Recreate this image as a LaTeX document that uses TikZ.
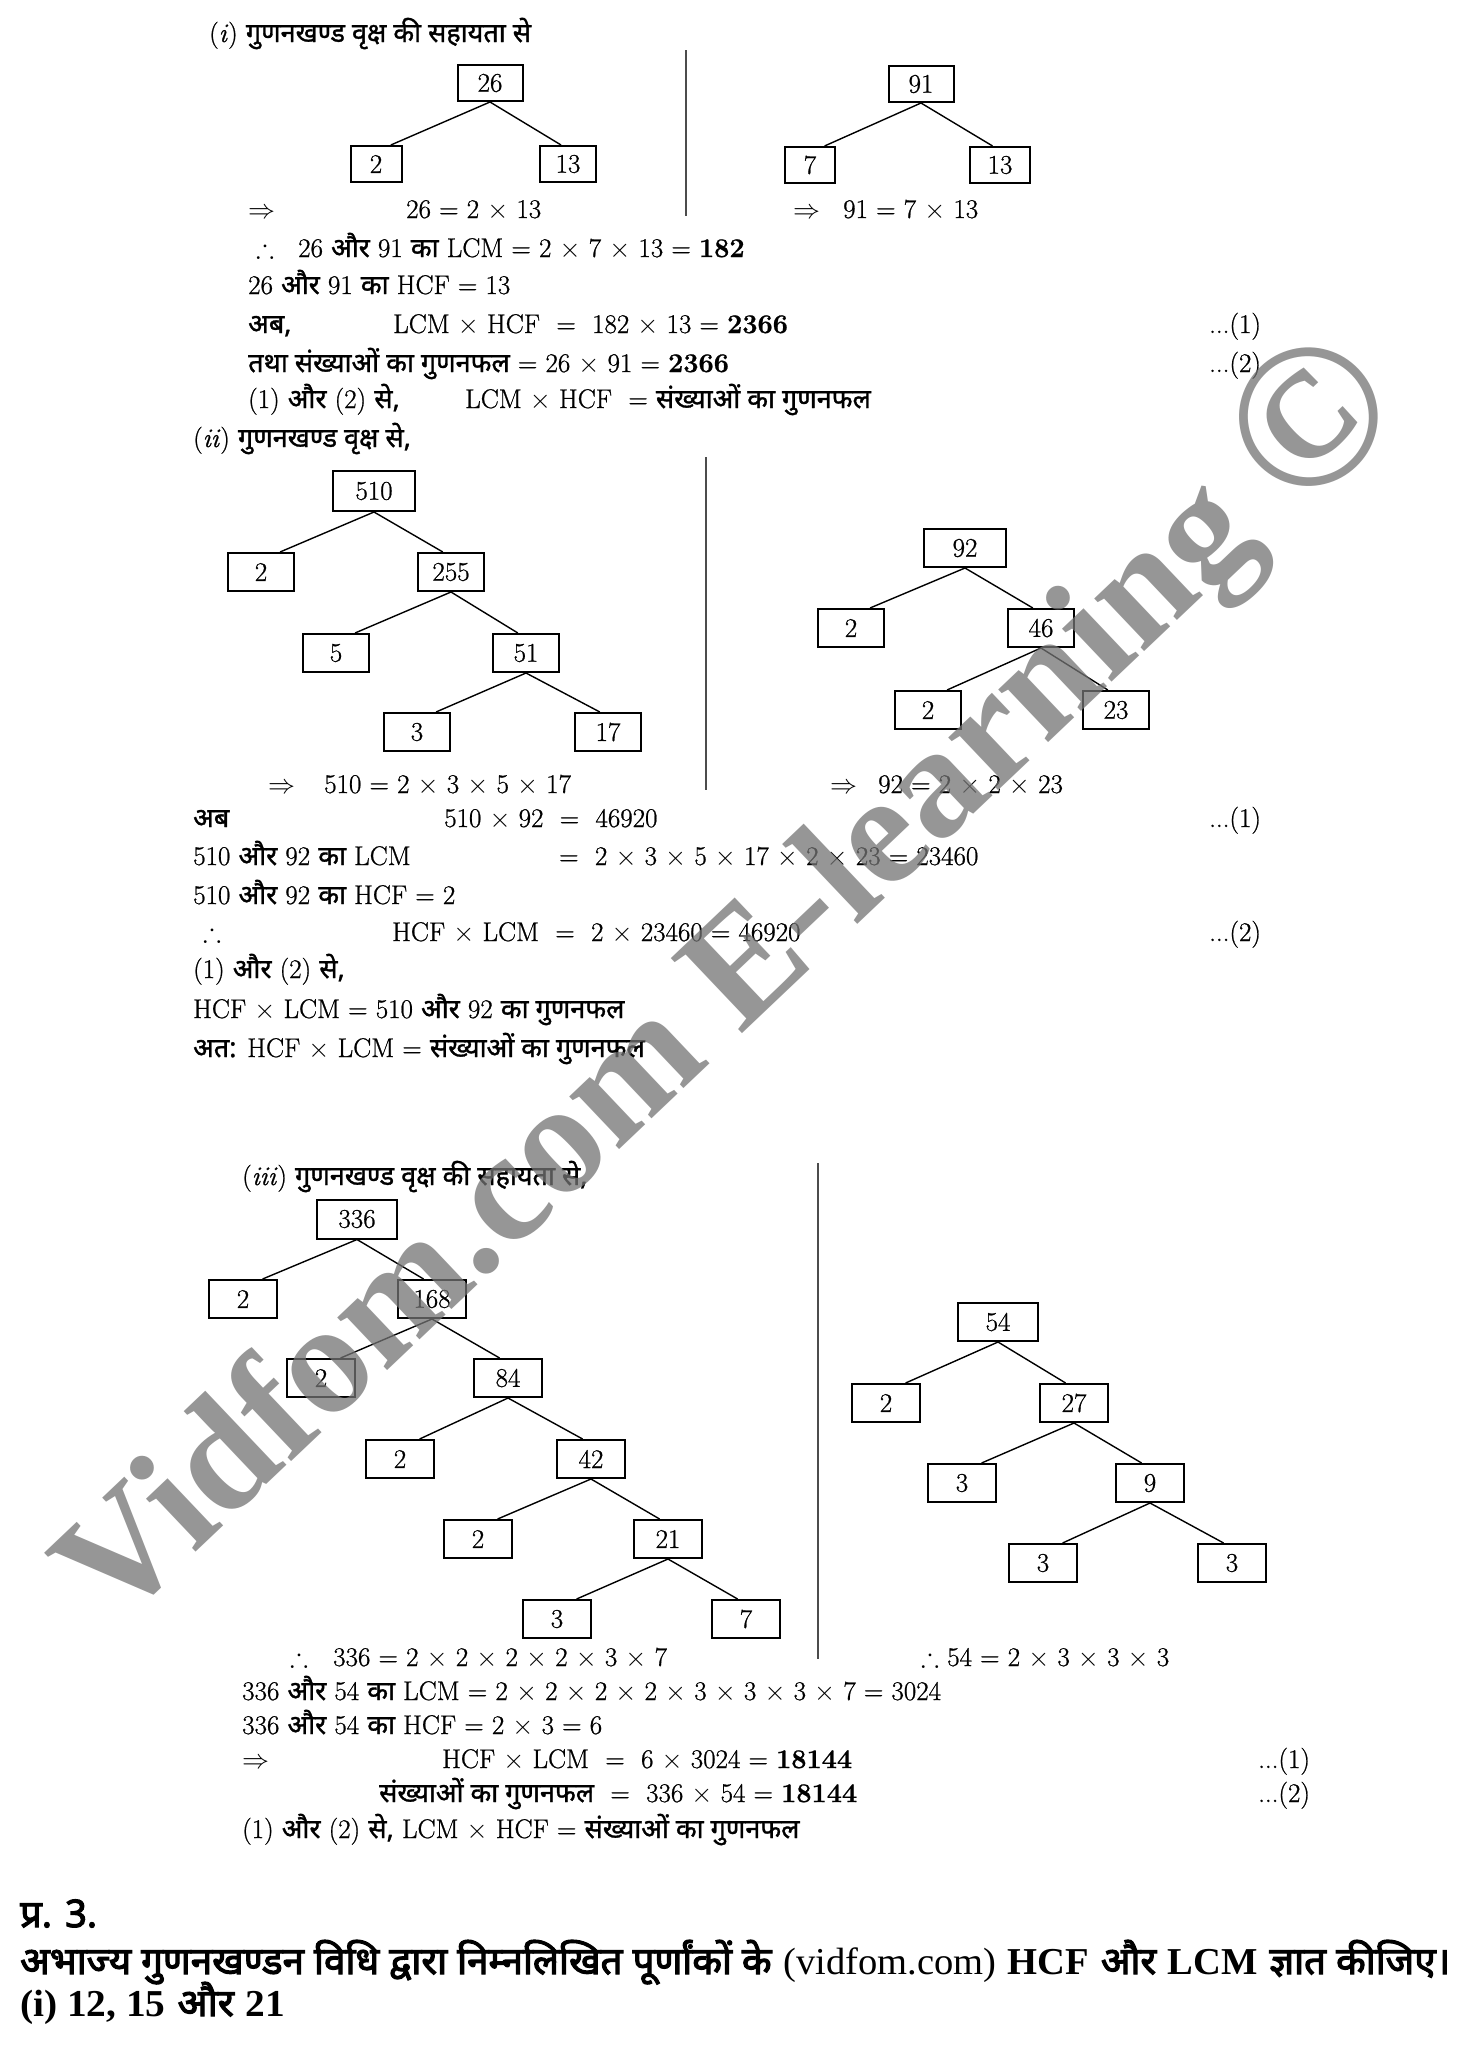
\RequirePackage{fix-cm}
\documentclass[tikz,border=0pt]{standalone}
\usepackage{fontspec}
\usepackage{amssymb}
\usepackage{graphicx}
\usetikzlibrary{calc}
\setmainfont{Latin Modern Roman}[FakeBold=0.8]
\newfontfamily\dv[Script=Devanagari,FakeBold=1.2]{Noto Sans}
\newfontfamily\dvb[Script=Devanagari,FakeBold=3]{Noto Sans}
\newfontfamily\ls{Liberation Serif}
\newcommand\fs{\fontsize{27}{32}\selectfont}
\newcommand\tf{\fontsize{27}{32}\selectfont}
\newcommand\D[1]{{\dv #1}}
\newcommand\B[1]{{\dvb #1}}
\newcommand\X{$\times$}
\tikzset{
  nb/.style={draw, line width=2pt, minimum width=66pt, minimum height=38pt, inner sep=0pt, font=\fs},
  edge/.style={line width=1.4pt},
  sep/.style={line width=2pt, draw=black!70},
  tx/.style={anchor=base west, inner sep=0pt, font=\fs},
  tt/.style={anchor=base west, inner sep=0pt, font=\tf},
}
\newcommand\kids[3]{%
  \draw[edge] (#1.south) -- ($(#2.north west)!0.78!(#2.north east)$);
  \draw[edge] (#1.south) -- ($(#3.north west)!0.38!(#3.north east)$);}
\begin{document}
\begin{tikzpicture}[x=1pt,y=-1pt]
\path[use as bounding box, fill=white] (0,0) rectangle (1483,2048);

% ---------- (i) ----------
\node[tt] (t1) at (209,42) {(\textit{i}) \D{गुणनखण्ड वृक्ष की सहायता से}};
\node[nb, minimum width=65pt, minimum height=36pt] (a1) at (490,83) {26};
\node[nb, minimum width=51pt, minimum height=36pt] (a2) at (376,164) {2};
\node[nb, minimum width=56pt, minimum height=36pt] (a3) at (568,164) {13};
\kids{a1}{a2}{a3}
\node[nb, minimum width=65pt, minimum height=36pt] (b1) at (921,84) {91};
\node[nb, minimum width=50pt, minimum height=36pt] (b2) at (810,165) {7};
\node[nb, minimum width=60pt, minimum height=36pt] (b3) at (1000,165) {13};
\kids{b1}{b2}{b3}
\coordinate (s1a) at (686,50); \coordinate (s1b) at (686,216);
\draw[sep] (s1a) -- (s1b);
\node[tx] (l1a) at (248,218) {$\Rightarrow$};
\node[tx] (l1b) at (406,218) {26 = 2 \X{} 13};
\node[tx] (l1c) at (793,218) {$\Rightarrow$};
\node[tx] (l1d) at (843,218) {91 = 7 \X{} 13};
\node[tx] (l2a) at (256,257) {$\therefore$};
\node[tx] (l2b) at (298,257) {26 \D{और} 91 \D{का} LCM = 2 \X{} 7 \X{} 13 = \textbf{182}};
\node[tx] (l3) at (248,294) {26 \D{और} 91 \D{का} HCF = 13};
\node[tx] (l4a) at (248,333) {\D{अब,}};
\node[tx] (l4b) at (393,333) {LCM \X{} HCF \ = \ 182 \X{} 13 = \textbf{2366}};
\node[tx] (l4c) at (1209,333) {...(1)};
\node[tx] (l5a) at (248,372) {\D{तथा संख्याओं का गुणनफल} = 26 \X{} 91 = \textbf{2366}};
\node[tx] (l5b) at (1209,372) {...(2)};
\node[tx] (l6a) at (248,408) {(1) \D{और} (2) \D{से,}};
\node[tx] (l6b) at (465,408) {LCM \X{} HCF \ = \D{संख्याओं का गुणनफल}};

% ---------- (ii) ----------
\node[tt] (t2) at (193,447) {(\textit{ii}) \D{गुणनखण्ड वृक्ष से,}};
\node[nb, minimum width=82pt, minimum height=40pt] (c1) at (374,491) {510};
\node[nb] (c2) at (261,572) {2};
\node[nb] (c3) at (451,572) {255};
\node[nb] (c4) at (336,653) {5};
\node[nb] (c5) at (526,653) {51};
\node[nb] (c6) at (417,732) {3};
\node[nb] (c7) at (608,732) {17};
\kids{c1}{c2}{c3}
\kids{c3}{c4}{c5}
\kids{c5}{c6}{c7}
\node[nb, minimum width=82pt] (d1) at (965,548) {92};
\node[nb] (d2) at (851,628) {2};
\node[nb] (d3) at (1041,628) {46};
\node[nb] (d4) at (928,710) {2};
\node[nb] (d5) at (1116,710) {23};
\kids{d1}{d2}{d3}
\kids{d3}{d4}{d5}
\coordinate (s2a) at (706,457); \coordinate (s2b) at (706,790);
\draw[sep] (s2a) -- (s2b);
\node[tx] (m1a) at (268,793) {$\Rightarrow$};
\node[tx] (m1b) at (324,793) {510 = 2 \X{} 3 \X{} 5 \X{} 17};
\node[tx] (m1c) at (830,793) {$\Rightarrow$};
\node[tx] (m1d) at (878,793) {92 = 2 \X{} 2 \X{} 23};
\node[tx] (m2a) at (193,827) {\D{अब}};
\node[tx] (m2b) at (444,827) {510 \X{} 92 \ = \ 46920};
\node[tx] (m2c) at (1209,827) {...(1)};
\node[tx] (m3a) at (193,865) {510 \D{और} 92 \D{का} LCM};
\node[tx] (m3b) at (559,865) {= \ 2 \X{} 3 \X{} 5 \X{} 17 \X{} 2 \X{} 23 = 23460};
\node[tx] (m4) at (193,904) {510 \D{और} 92 \D{का} HCF = 2};
\node[tx] (m5a) at (203,941) {$\therefore$};
\node[tx] (m5b) at (392,941) {HCF \X{} LCM \ = \ 2 \X{} 23460 = 46920};
\node[tx] (m5c) at (1209,941) {...(2)};
\node[tx] (m6) at (193,978) {(1) \D{और} (2) \D{से,}};
\node[tx] (m7) at (193,1018) {HCF \X{} LCM = 510 \D{और} 92 \D{का गुणनफल}};
\node[tx] (m8) at (193,1057) {\D{अत:} HCF \X{} LCM = \D{संख्याओं का गुणनफल}};

% ---------- (iii) ----------
\node[tt] (t3) at (242,1185) {(\textit{iii}) \D{गुणनखण्ड वृक्ष की सहायता से,}};
\node[nb, minimum width=80pt, minimum height=39pt] (e1) at (357,1219) {336};
\node[nb, minimum width=68pt] (e2) at (243,1299) {2};
\node[nb, minimum width=68pt] (e3) at (432,1299) {168};
\node[nb, minimum width=68pt] (e4) at (321,1378) {2};
\node[nb, minimum width=68pt] (e5) at (508,1378) {84};
\node[nb, minimum width=68pt] (e6) at (400,1459) {2};
\node[nb, minimum width=68pt] (e7) at (591,1459) {42};
\node[nb, minimum width=68pt] (e8) at (478,1539) {2};
\node[nb, minimum width=68pt] (e9) at (668,1539) {21};
\node[nb, minimum width=68pt] (e10) at (557,1619) {3};
\node[nb, minimum width=68pt] (e11) at (746,1619) {7};
\kids{e1}{e2}{e3}
\kids{e3}{e4}{e5}
\kids{e5}{e6}{e7}
\kids{e7}{e8}{e9}
\kids{e9}{e10}{e11}
\node[nb, minimum width=80pt] (f1) at (998,1322) {54};
\node[nb, minimum width=68pt] (f2) at (886,1403) {2};
\node[nb, minimum width=68pt] (f3) at (1074,1403) {27};
\node[nb, minimum width=68pt] (f4) at (962,1483) {3};
\node[nb, minimum width=68pt] (f5) at (1150,1483) {9};
\node[nb, minimum width=68pt] (f6) at (1043,1563) {3};
\node[nb, minimum width=68pt] (f7) at (1232,1563) {3};
\kids{f1}{f2}{f3}
\kids{f3}{f4}{f5}
\kids{f5}{f6}{f7}
\coordinate (s3a) at (818,1163); \coordinate (s3b) at (818,1659);
\draw[sep] (s3a) -- (s3b);
\node[tx] (n1a) at (290,1666) {$\therefore$};
\node[tx] (n1b) at (333,1666) {336 = 2 \X{} 2 \X{} 2 \X{} 2 \X{} 3 \X{} 7};
\node[tx] (n1c) at (921,1666) {$\therefore$};
\node[tx] (n1d) at (947,1666) {54 = 2 \X{} 3 \X{} 3 \X{} 3};
\node[tx] (n2) at (242,1700) {336 \D{और} 54 \D{का} LCM = 2 \X{} 2 \X{} 2 \X{} 2 \X{} 3 \X{} 3 \X{} 3 \X{} 7 = 3024};
\node[tx] (n3) at (242,1734) {336 \D{और} 54 \D{का} HCF = 2 \X{} 3 = 6};
\node[tx] (n4a) at (242,1768) {$\Rightarrow$};
\node[tx] (n4b) at (442,1768) {HCF \X{} LCM \ = \ 6 \X{} 3024 = \textbf{18144}};
\node[tx] (n4c) at (1258,1768) {...(1)};
\node[tx] (n5a) at (379,1802) {\D{संख्याओं का गुणनफल} \ = \ 336 \X{} 54 = \textbf{18144}};
\node[tx] (n5b) at (1258,1802) {...(2)};
\node[tx] (n6) at (242,1838) {(1) \D{और} (2) \D{से,} LCM \X{} HCF = \D{संख्याओं का गुणनफल}};

% ---------- bottom ----------
\node[anchor=base west, inner sep=0pt] (q1) at (20,1927)
  {\fontsize{38}{44}\selectfont\B{प्र. 3.}};
\node[anchor=base west, inner sep=0pt] (q2) at (20,1974)
  {\resizebox{1430pt}{\height}{\fontsize{38}{44}\selectfont
   \B{अभाज्य गुणनखण्डन विधि द्वारा निम्नलिखित पूर्णांकों के} {\ls (vidfom.com)} {\ls\bfseries HCF} \B{और} {\ls\bfseries LCM} \B{ज्ञात कीजिए।}}};
\node[anchor=base west, inner sep=0pt] (q3) at (20,2016)
  {\resizebox{265pt}{\height}{\fontsize{38}{44}\selectfont {\ls\bfseries (i) 12, 15} \B{और} {\ls\bfseries 21}}};

% ---------- watermark ----------
\node[rotate=43.5, text=black!55, opacity=0.75, inner sep=0pt,
      font=\ls\bfseries\fontsize{158}{160}\selectfont] (wm) at (727,985)
  {Vidfom.com E-learning \raisebox{-10pt}{\fontsize{205}{205}\selectfont ©}};
\end{tikzpicture}
\end{document}
